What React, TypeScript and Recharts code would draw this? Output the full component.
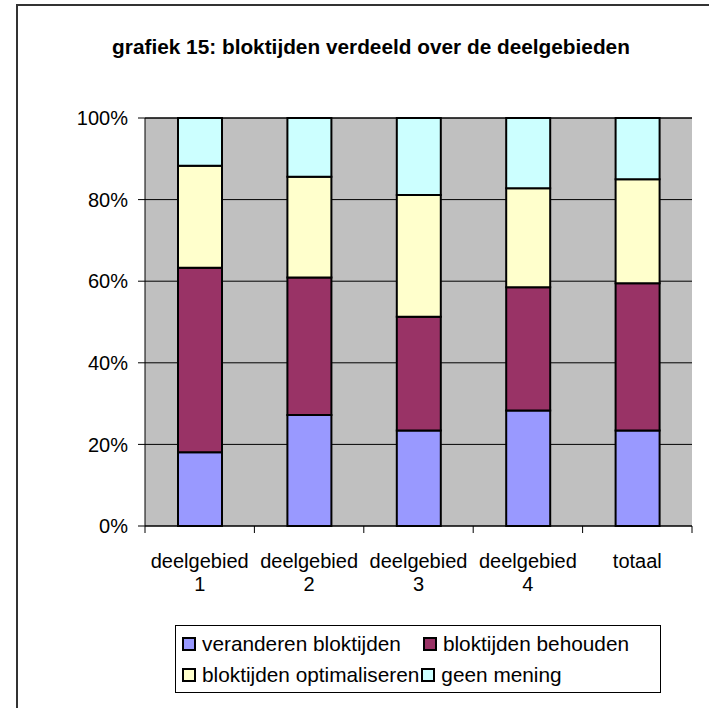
import React from 'react';
import { BarChart, Bar, XAxis, YAxis, CartesianGrid } from 'recharts';

const categories = ['deelgebied 1', 'deelgebied 2', 'deelgebied 3', 'deelgebied 4', 'totaal'];
const veranderen = [18.1, 27.2, 23.4, 28.3, 23.4];
const behouden = [45.2, 33.7, 27.9, 30.2, 36.1];
const optimaliseren = [25.0, 24.7, 29.8, 24.3, 25.5];
const geenMening = [11.7, 14.4, 18.9, 17.2, 15.0];
const yTicks = [0, 20, 40, 60, 80, 100];

const seriesNames = ['veranderen bloktijden', 'bloktijden behouden', 'bloktijden optimaliseren', 'geen mening'];
const seriesKeys = ['veranderen', 'behouden', 'optimaliseren', 'geenMening'];
const seriesColors = ['#9999FF', '#993366', '#FFFFCC', '#CCFFFF'];

const data = categories.map((c, i) => ({
  name: c,
  veranderen: veranderen[i],
  behouden: behouden[i],
  optimaliseren: optimaliseren[i],
  geenMening: geenMening[i],
}));

const FONT = 'Arial, "Liberation Sans", sans-serif';

const CatTick = (props: any) => {
  const { x, y, payload } = props;
  const parts = String(payload.value).split(' ');
  return (
    <text x={x} y={y} textAnchor="middle" fontSize={20} fontFamily={FONT} fill="#000">
      <tspan x={x} dy={34}>{parts[0]}</tspan>
      {parts[1] ? <tspan x={x} dy={23}>{parts[1]}</tspan> : null}
    </text>
  );
};

const LegendItem = ({ idx }: { idx: number }) => (
  <div style={{ display: 'flex', alignItems: 'center' }}>
    <div style={{ width: 10, height: 10, border: '2px solid #000', background: seriesColors[idx], marginRight: 6 }} />
    <span>{seriesNames[idx]}</span>
  </div>
);

export default function App() {
  return (
    <div style={{ position: 'absolute', left: 0, top: 0, width: 709, height: 708, overflow: 'hidden', background: '#fff', fontFamily: FONT }}>
      <div style={{ position: 'absolute', left: 16, top: 4, width: 760, height: 760, border: '2px solid #333', boxSizing: 'border-box' }} />
      <div style={{ position: 'absolute', left: 0, top: 0 }}>
        <BarChart width={709} height={708} data={data} margin={{ top: 118, right: 17, bottom: 122, left: 85 }} barSize={44}>
          <CartesianGrid vertical={false} stroke="#000" fill="#C0C0C0" />
          <XAxis xAxisId="zcat" dataKey="name" axisLine={false} tickLine={false} tickSize={0} tickMargin={0}
            interval={0} tick={<CatTick />} height={52} />
          <XAxis xAxisId="aticks" type="number" dataKey="idx" domain={[0, 5]} ticks={[0, 1, 2, 3, 4, 5]} height={8}
            tickFormatter={() => ''} tickSize={7} tickLine={{ stroke: '#000' }} axisLine={{ stroke: '#000' }} allowDataOverflow interval={0} />
          <YAxis domain={[0, 100]} ticks={yTicks} tickFormatter={(v: number) => `${v}%`} width={60}
            tickSize={7} tickMargin={10} axisLine={{ stroke: '#000' }} tickLine={{ stroke: '#000' }}
            tick={{ fill: '#000', fontSize: 20, fontFamily: FONT }} interval={0} />
          <YAxis yAxisId="r" orientation="right" domain={[0, 100]} width={0} tick={false} tickLine={false}
            axisLine={{ stroke: '#808080', strokeWidth: 2 }} />
          {seriesKeys.map((k, i) => (
            <Bar key={k} xAxisId="zcat" dataKey={k} stackId="a" fill={seriesColors[i]} stroke="#000" strokeWidth={2}
              name={seriesNames[i]} isAnimationActive={false} />
          ))}
        </BarChart>
      </div>
      <div style={{ position: 'absolute', left: 0, width: 742, top: 33, textAlign: 'center', fontWeight: 'bold', fontSize: 20.8, lineHeight: '28px' }}>
        grafiek 15: bloktijden verdeeld over de deelgebieden
      </div>
      <div style={{ position: 'absolute', left: 175, top: 625, width: 486, height: 68, border: '1px solid #000', boxSizing: 'border-box', fontSize: 20.8, padding: '3px 0 0 6px' }}>
        <div style={{ display: 'flex', height: 30, alignItems: 'center', gap: 22 }}>
          <LegendItem idx={0} />
          <LegendItem idx={1} />
        </div>
        <div style={{ display: 'flex', height: 32, alignItems: 'center', gap: 2 }}>
          <LegendItem idx={2} />
          <LegendItem idx={3} />
        </div>
      </div>
    </div>
  );
}
